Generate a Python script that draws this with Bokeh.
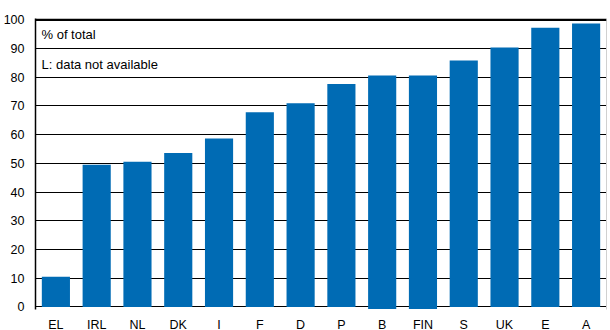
from bokeh.plotting import figure
from bokeh.models import FactorRange, Range1d, Span, Label, LinearAxis, FixedTicker
from bokeh.embed import file_html
from bokeh.resources import INLINE

countries = ["EL", "IRL", "NL", "DK", "I", "F", "D", "P", "B", "FIN", "S", "UK", "E", "A"]
values = [10.5, 49.5, 50.5, 53.6, 58.6, 67.8, 70.9, 77.6, 80.6, 80.6, 85.8, 90.3, 97.2, 98.7]
bottoms = [0, 0, 0, 0, 0, 0, 0, 0, -0.7, -0.7, 0, 0, 0, 0]
y_ticks = [0, 10, 20, 30, 40, 50, 60, 70, 80, 90, 100]
note_lines = ["% of total", "L: data not available"]
note_y = [95, 84.5]

FONT = "Liberation Sans"

p = figure(x_range=FactorRange(*countries, range_padding=0),
           y_range=Range1d(-0.9, 100.4),
           frame_width=571, frame_height=291,
           min_border_left=33, min_border_right=1, min_border_top=18, min_border_bottom=16,
           output_backend="svg", toolbar_location=None,
           background_fill_color="white", border_fill_color="white")
p.outline_line_color = None

p.vbar(x=countries, top=values, bottom=bottoms, width=0.69, color="#006BB4", line_color=None)

p.yaxis.ticker = FixedTicker(ticks=y_ticks)
p.yaxis.axis_line_color = "black"
p.yaxis.axis_line_width = 1.5
p.yaxis.major_tick_line_color = None
p.yaxis.minor_tick_line_color = None
p.yaxis.major_label_standoff = 5
p.yaxis.major_label_text_font = FONT
p.yaxis.major_label_text_font_size = "12.5px"
p.yaxis.major_label_text_color = "black"

p.xaxis.axis_line_color = None
p.xaxis.major_tick_line_color = None
p.xaxis.minor_tick_line_color = None
p.xaxis.major_label_standoff = 2
p.xaxis.major_label_text_font = FONT
p.xaxis.major_label_text_font_size = "12.5px"
p.xaxis.major_label_text_color = "black"

p.xgrid.grid_line_color = None
p.ygrid.ticker = FixedTicker(ticks=y_ticks)
p.ygrid.grid_line_color = "black"
p.ygrid.grid_line_width = 1.2

p.add_layout(Span(location=100, dimension="width", line_color="black", line_width=2.5))

right = LinearAxis(ticker=FixedTicker(ticks=[]), axis_line_color="#d0d0d0",
                   major_label_text_font_size="0px", major_tick_line_color=None,
                   minor_tick_line_color=None)
p.add_layout(right, "right")

for txt, yy in zip(note_lines, note_y):
    p.add_layout(Label(x=6, y=yy, x_units="screen", y_units="data", text=txt,
                       text_font=FONT, text_font_size="13px", text_color="black",
                       text_baseline="middle"))

open("out.html", "w").write(file_html(p, INLINE))
